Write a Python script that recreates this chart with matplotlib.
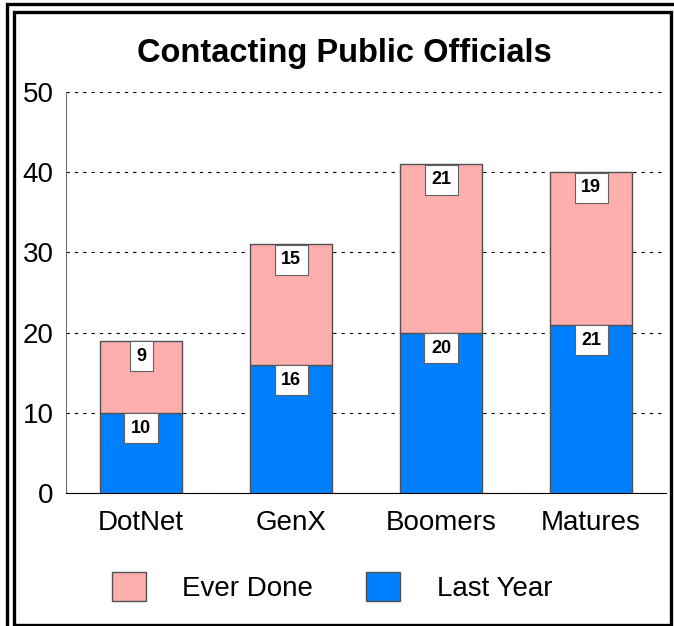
import matplotlib.pyplot as plt
from matplotlib.patches import Rectangle

plt.rcParams['font.family'] = ['Liberation Sans', 'DejaVu Sans']

groups = ['DotNet', 'GenX', 'Boomers', 'Matures']
last_year = [10, 16, 20, 21]
ever_done = [9, 15, 21, 19]
y_ticks = [0, 10, 20, 30, 40, 50]

pink = '#FFAEAE'
blue = '#0080FF'
edge = '#505050'

fig = plt.figure(figsize=(6.74, 6.26), dpi=100)
ax = fig.add_axes([66 / 674, 133 / 626, 600 / 674, 401 / 626])

x = range(len(groups))
b1 = ax.bar(x, last_year, width=0.55, color=blue, edgecolor=edge, linewidth=1, label='Last Year', zorder=3)
b2 = ax.bar(x, ever_done, width=0.55, bottom=last_year, color=pink, edgecolor=edge, linewidth=1,
            label='Ever Done', zorder=3)

# value labels hanging from top of each segment
box = dict(boxstyle='square,pad=0.36', facecolor='white', edgecolor='#606060', linewidth=0.8)
for i in x:
    ax.annotate(str(last_year[i]), (i, last_year[i]), xytext=(0, -5), textcoords='offset points',
                ha='center', va='top', fontsize=13, fontweight='bold', bbox=box, zorder=5)
    top = last_year[i] + ever_done[i]
    ax.annotate(str(ever_done[i]), (i, top), xytext=(0, -5), textcoords='offset points',
                ha='center', va='top', fontsize=13, fontweight='bold', bbox=box, zorder=5)

ax.set_xlim(-0.5, 3.5)
ax.set_ylim(0, 50)
ax.set_yticks(y_ticks)
ax.set_xticks(list(x))
ax.set_xticklabels(groups)
ax.tick_params(axis='both', length=0, labelsize=20)
ax.tick_params(axis='y', pad=9)
ax.tick_params(axis='x', pad=12)
ax.grid(axis='y', color='black', linestyle=(0, (3, 4.5)), linewidth=0.8, zorder=0)
for s in ['top', 'right']:
    ax.spines[s].set_visible(False)
ax.spines['left'].set_color('#707070')
ax.spines['bottom'].set_color('black')

fig.text(344 / 674, 1 - 53.5 / 626, 'Contacting Public Officials', ha='center', va='center',
         fontsize=23.5, fontweight='bold')

fig.legend(handles=[b2, b1], loc='center', bbox_to_anchor=(332 / 674, 1 - 587 / 626), ncol=2,
           frameon=False, fontsize=20, handlelength=1.22, handleheight=1.22, handletextpad=1.32,
           columnspacing=1.9)

# double frame
fig.add_artist(Rectangle((6.5 / 674, -0.1), 2, 1.1 - 3.5 / 626, transform=fig.transFigure,
                         fill=False, edgecolor='black', linewidth=2.4))
fig.add_artist(Rectangle((13.5 / 674, 1 - 624.5 / 626), (670.5 - 13.5) / 674, (624.5 - 11.5) / 626,
                         transform=fig.transFigure, fill=False, edgecolor='black', linewidth=2.4))

fig.savefig('out.png', dpi=100)
